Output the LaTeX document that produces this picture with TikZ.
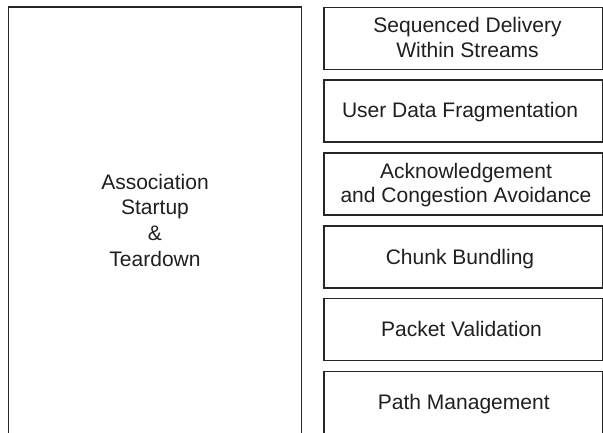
\documentclass[tikz,border=0pt]{standalone}
\usepackage{fontspec}
\setmainfont{Liberation Sans}
\begin{document}
\begin{tikzpicture}[x=1bp,y=-1bp,
  box/.style={draw=black!85, line width=1.5bp, rectangle, inner sep=0pt},
  rbox/.style={box, minimum width=278.6bp, minimum height=62bp},
  lbl/.style={font=\fontsize{21.1}{25}\selectfont, align=center, anchor=base, inner sep=0pt, text=black!88}]
\useasboundingbox (0,0) rectangle (603,432);
\clip (0,0) rectangle (603,432);
% left block
\node[box, minimum width=293.3bp, minimum height=463.2bp] (assoc) at (155,238.4) {};
% right blocks
\node[rbox] (seq)  at (463.5,38.3)  {};
\node[rbox] (frag) at (463.5,111.2) {};
\node[rbox] (ack)  at (463.5,183.9) {};
\node[rbox] (chunk) at (463.5,256.85) {};
\node[rbox] (pkt)  at (463.5,329.7) {};
\node[rbox] (path) at (463.5,402.7) {};
% labels (anchor=base is the baseline of the last line)
\node[lbl, font=\fontsize{21.1}{25.67}\selectfont] (assoclbl) at (155,266) {Association\\Startup\\\&\\Teardown};
\node[lbl] (seqlbl) at (467.5,57.3) {Sequenced Delivery\\Within Streams};
\node[lbl] (fraglbl) at (460,117.3) {User Data Fragmentation};
\node[lbl, font=\fontsize{21.1}{24}\selectfont] (acklbl) at (466,202.3) {Acknowledgement\\and Congestion Avoidance};
\node[lbl] (chunklbl) at (460,264.3) {Chunk Bundling};
\node[lbl] (pktlbl) at (461.5,336.7) {Packet Validation};
\node[lbl] (pathlbl) at (463.8,409.3) {Path Management};
\end{tikzpicture}
\end{document}
